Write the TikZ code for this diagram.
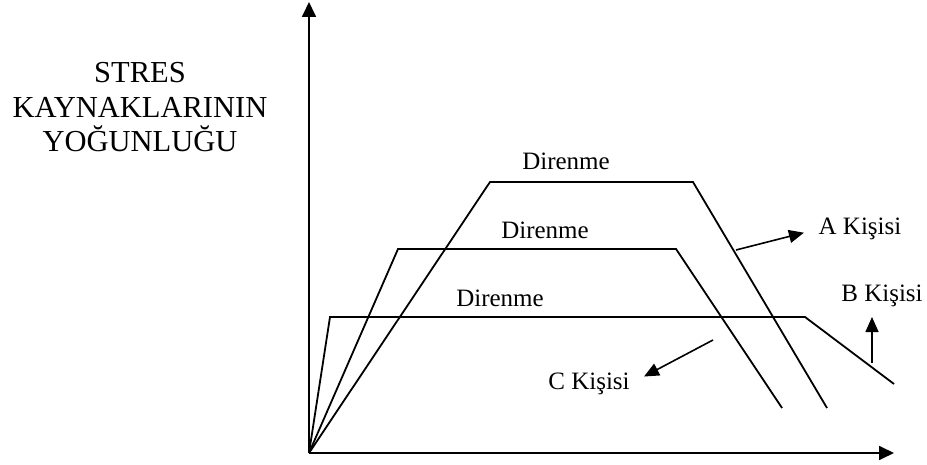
\documentclass[tikz,border=0pt]{standalone}
\usepackage{fontspec}
\setmainfont{Liberation Serif}
\usetikzlibrary{arrows.meta}
\begin{document}
\begin{tikzpicture}[x=1pt,y=-1pt,
  curve/.style={line width=1.8pt,line join=miter},
  axis/.style={line width=1.8pt,-{Triangle[length=15pt,width=14pt]}},
  pointer/.style={line width=1.6pt,-{Triangle[length=15pt,width=13pt]}},
  lbl/.style={font=\fontsize{25}{30}\selectfont,inner sep=0pt}]
\useasboundingbox (0,0) rectangle (927,465);
\coordinate (O) at (309,453);
\coordinate (Ytop) at (309,2);
\coordinate (Xend) at (894,453);
\draw[axis] (O) -- (Ytop);
\draw[axis] (O) -- (Xend);
% curve A
\coordinate (a1) at (490,182); \coordinate (a2) at (693,182); \coordinate (a3) at (827,408);
\draw[curve] (O) -- (a1) -- (a2) -- (a3);
% middle curve
\coordinate (m1) at (398,249); \coordinate (m2) at (676,249); \coordinate (m3) at (782,408);
\draw[curve] (O) -- (m1) -- (m2) -- (m3);
% low curve
\coordinate (b1) at (330,317); \coordinate (b2) at (805,317); \coordinate (b3) at (894,384);
\draw[curve] (O) -- (b1) -- (b2) -- (b3);
% labels
\node[inner sep=0pt,align=center,font=\fontsize{30.5}{34.5}\selectfont] (stres) at (140,107.5) {STRES\\KAYNAKLARININ\\YOĞUNLUĞU};
\node[lbl] (d1) at (566,161) {Direnme};
\node[lbl] (d2) at (545,230) {Direnme};
\node[lbl] (d3) at (500,298) {Direnme};
\node[lbl] (A) at (860,229) {A Kişisi};
\node[lbl] (B) at (882,296) {B Kişisi};
\node[lbl] (C) at (589,384) {C Kişisi};
\coordinate (pa) at (736,250);
\coordinate (pb) at (872,363);
\coordinate (pbt) at (872,317);
\coordinate (pc) at (713,340);
\draw[pointer,shorten >=15pt] (pa) -- (A.west);
\draw[pointer] (pb) -- (pbt);
\draw[pointer,shorten >=16pt] (pc) -- (C.east);
\end{tikzpicture}
\end{document}
